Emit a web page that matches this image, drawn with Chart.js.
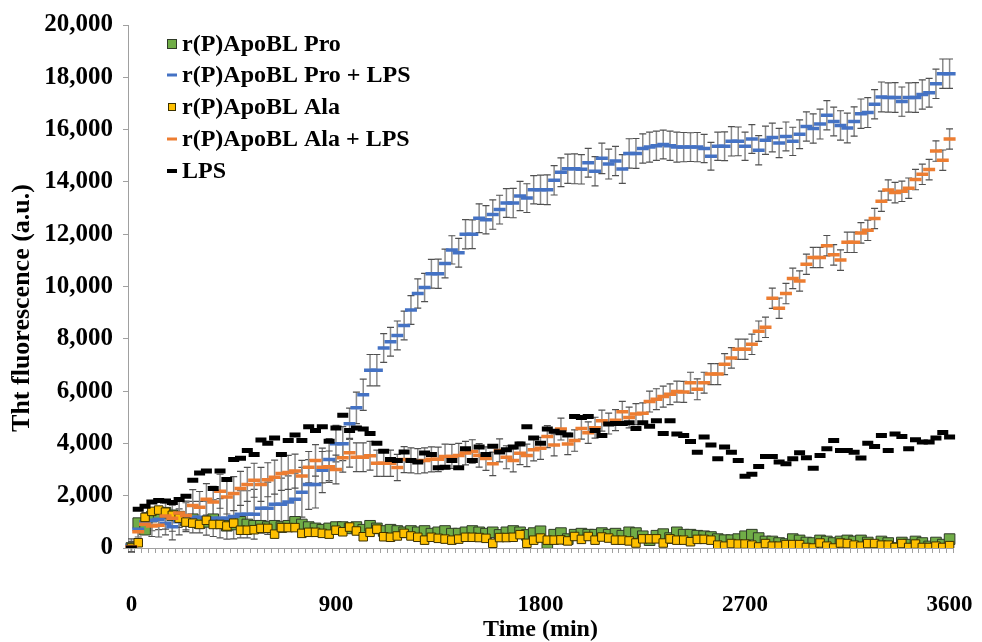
<!DOCTYPE html>
<html><head><meta charset="utf-8">
<script src="https://cdn.jsdelivr.net/npm/chart.js@4.4.1/dist/chart.umd.min.js"></script>
<style>html,body{margin:0;padding:0;background:#fff;}canvas{display:block;}</style>
</head><body>
<canvas id="c" width="982" height="642"></canvas>
<script>
const times = [0,30,60,90,120,150,180,210,240,270,300,330,360,390,420,450,480,510,540,570,600,630,660,690,720,750,780,810,840,870,900,930,960,990,1020,1050,1080,1110,1140,1170,1200,1230,1260,1290,1320,1350,1380,1410,1440,1470,1500,1530,1560,1590,1620,1650,1680,1710,1740,1770,1800,1830,1860,1890,1920,1950,1980,2010,2040,2070,2100,2130,2160,2190,2220,2250,2280,2310,2340,2370,2400,2430,2460,2490,2520,2550,2580,2610,2640,2670,2700,2730,2760,2790,2820,2850,2880,2910,2940,2970,3000,3030,3060,3090,3120,3150,3180,3210,3240,3270,3300,3330,3360,3390,3420,3450,3480,3510,3540,3570,3600];
const xTickLabels = [0, 900, 1800, 2700, 3600];
const seriesNames = ['r(P)ApoBL Pro', 'r(P)ApoBL Pro + LPS', 'r(P)ApoBL Ala', 'r(P)ApoBL Ala + LPS', 'LPS'];

const proValues = [0,950,700,1200,1300,1350,1250,1200,1050,1100,950,1000,1100,950,850,900,1000,900,850,850,800,850,800,850,1000,900,800,750,700,750,800,800,750,800,700,850,750,650,700,650,600,650,600,650,550,600,650,550,550,600,650,600,550,600,500,600,650,600,500,570,640,190,510,570,340,510,550,510,510,570,510,550,470,600,570,450,300,470,530,380,600,510,510,470,450,420,340,300,300,340,450,510,380,250,250,190,150,340,290,210,190,290,250,190,250,290,250,290,210,-50,250,190,0,210,130,250,190,60,210,130,340];

const proLpsValues = [100,720,1000,1060,1100,950,810,1000,1180,1180,1180,1140,1140,1140,1140,1200,1290,1290,1290,1520,1520,1670,1670,1760,1860,2130,2430,2430,2970,3380,3990,3990,4750,5360,5860,6800,6800,7650,7890,8130,8510,9100,9730,9960,10490,10490,10880,11400,11290,12000,12000,12610,12550,12750,12940,13190,13190,13460,13380,13700,13700,13700,14060,14370,14500,14500,14480,14730,14410,14900,14680,14800,14490,15090,15090,15280,15330,15380,15430,15380,15330,15330,15330,15330,15280,14980,15360,15360,15550,15550,15360,15640,15210,15590,15700,15490,15740,15550,15820,16120,16040,16210,16550,16310,16160,16060,16310,16610,16650,16970,17250,17230,17230,17070,17230,17230,17340,17410,17750,18140,18140];
const proLpsErrors = [250,300,350,400,400,450,500,500,550,600,600,650,700,750,800,850,900,900,950,950,1000,1000,1000,1000,1000,950,950,900,850,800,700,650,600,600,600,600,600,550,550,550,550,550,560,540,550,560,550,540,550,560,550,550,540,560,550,550,560,560,550,540,560,570,560,550,560,570,560,550,560,580,570,560,550,560,570,560,570,560,550,560,570,560,550,560,540,530,540,550,560,550,540,550,560,540,550,560,550,540,550,560,560,570,560,550,560,570,560,560,570,560,570,560,570,560,560,570,560,550,560,560,560];

const alaValues = [0,200,1170,1400,1450,1370,1250,1140,990,950,900,1060,900,900,840,950,680,680,700,750,750,530,780,780,780,560,600,600,560,530,680,620,800,650,430,600,720,430,410,460,560,460,410,300,410,370,340,300,340,410,410,400,370,180,400,400,410,510,180,300,380,300,300,310,270,440,330,440,300,420,380,300,300,270,190,350,350,350,190,350,300,300,240,330,330,300,110,70,170,150,150,110,40,170,70,70,130,130,130,20,0,190,70,0,190,170,110,70,170,170,110,110,20,170,20,150,20,20,70,20,90];

const alaLpsValues = [50,620,910,840,870,1220,1140,1340,1240,1630,1560,1860,1760,2170,1950,2080,2280,2430,2590,2430,2610,2710,2850,2890,2940,2750,3090,3350,3090,3110,3000,3450,3640,3470,3470,3530,3240,3240,3240,3080,3380,3350,3320,3350,3390,3390,3500,3500,3540,3630,3690,3540,3420,3220,3730,3470,3350,3620,3540,3760,3810,4260,3940,4550,3980,4110,4570,4410,4600,4870,4760,4890,5210,4990,5120,5150,5600,5690,5790,5880,5980,5970,6320,6070,6320,6650,6650,7030,7270,7600,7600,7790,8290,8440,9550,9170,9730,10310,10210,10850,11110,11110,11560,11210,11010,11690,11690,12050,12150,12600,13260,13690,13590,13640,13760,14090,14290,14470,15180,14830,15640];
const alaLpsErrors = [200,300,350,400,450,500,500,550,550,600,600,600,600,650,650,650,650,650,650,650,650,650,650,650,650,600,600,600,600,600,550,550,550,550,550,550,500,500,500,500,500,480,480,480,480,470,470,460,460,450,450,450,450,450,440,440,440,430,430,430,420,420,420,420,410,410,410,410,400,400,400,400,400,400,400,400,400,400,400,400,400,400,400,400,400,400,400,400,390,390,390,390,390,390,390,390,390,390,390,390,390,390,390,390,390,390,390,390,390,390,390,390,390,390,390,390,390,390,390,390,390];

const lpsValues = [0,1480,1600,1760,1820,1800,1740,1850,1980,2590,2870,2940,2280,2940,2620,3380,3430,3730,3580,4130,4010,4210,3580,4110,4320,4110,4640,4490,4640,4080,4590,5080,4490,4590,4550,4380,4010,3700,3380,3350,3670,3350,3290,3630,3580,3070,3090,3350,3070,3800,3350,3860,3580,3890,3670,3760,3860,3980,4640,4210,4010,4550,4460,4410,4320,5030,4990,5030,4490,4300,4740,4760,4760,4790,4570,4790,4660,4870,4380,4870,4360,4300,4070,3660,4240,3940,3410,3860,3660,3350,2740,2820,3120,3500,3500,3290,3220,3410,3640,3450,3050,3540,3800,4110,3730,3730,3660,3440,4010,3880,4300,3730,4360,4260,3800,4140,4050,4050,4210,4420,4240];

const yTickStep = 2000;
const FONT = '"Liberation Serif", "Times New Roman", serif';
const yTitle = 'Tht fluorescence (a.u.)';

const errorBarPlugin = {
  id: 'errorBars',
  beforeDatasetsDraw(chart) {
    const ctx = chart.ctx, ys = chart.scales.y, area = chart.chartArea;
    ctx.save();
    ctx.beginPath();
    ctx.rect(area.left, area.top - 5, area.right - area.left, area.bottom - area.top + 10);
    ctx.clip();
    chart.data.datasets.forEach((ds, di) => {
      if (!ds.errors) return;
      const meta = chart.getDatasetMeta(di);
      meta.data.forEach((pt, i) => {
        const v = ds.data[i], e = ds.errors[i];
        const x = pt.x;
        const yT = ys.getPixelForValue(v + e);
        const yB = ys.getPixelForValue(v - e);
        ctx.strokeStyle = '#8a8a8a';
        ctx.lineWidth = 1.5;
        ctx.beginPath(); ctx.moveTo(x, yT); ctx.lineTo(x, yB); ctx.stroke();
        ctx.strokeStyle = '#505050';
        ctx.lineWidth = 1.2;
        ctx.beginPath();
        ctx.moveTo(x - 3.5, yT); ctx.lineTo(x + 3.5, yT);
        ctx.moveTo(x - 3.5, yB); ctx.lineTo(x + 3.5, yB);
        ctx.stroke();
      });
    });
    ctx.restore();
  }
};

const legendPlugin = {
  id: 'innerLegend',
  afterDraw(chart) {
    const ctx = chart.ctx;
    const rows = [44, 75, 107, 139, 171];
    const mx = 172, tx = 182;
    ctx.save();
    ctx.font = 'bold 24px ' + FONT;
    ctx.textBaseline = 'middle';
    ctx.textAlign = 'left';
    chart.data.datasets.forEach((ds, i) => {
      const y = rows[i];
      if (ds.pointStyle === 'rect') {
        const s = ds.legendSize;
        ctx.fillStyle = ds.pointBackgroundColor;
        ctx.fillRect(mx - s / 2, y - s / 2, s, s);
        ctx.strokeStyle = ds.pointBorderColor;
        ctx.lineWidth = 1;
        ctx.strokeRect(mx - s / 2, y - s / 2, s, s);
      } else {
        ctx.strokeStyle = ds.pointBorderColor;
        ctx.lineWidth = ds.legendThick;
        ctx.beginPath(); ctx.moveTo(mx - 5, y); ctx.lineTo(mx + 5, y); ctx.stroke();
      }
      ctx.fillStyle = '#000';
      ctx.fillText(ds.label, tx, y + 1);
    });
    ctx.save();
    ctx.translate(22, 308);
    ctx.rotate(-Math.PI / 2);
    ctx.font = 'bold 26px ' + FONT;
    ctx.textAlign = 'center';
    ctx.textBaseline = 'middle';
    ctx.fillText(yTitle, 0, 0);
    ctx.restore();
    ctx.restore();
  }
};

new Chart(document.getElementById('c'), {
  type: 'line',
  data: {
    labels: times,
    datasets: [
      { label: seriesNames[0], data: proValues, showLine: false, pointStyle: 'rect', pointRadius: 7.5, pointHoverRadius: 7.5,
        pointBackgroundColor: '#70AD47', pointBorderColor: '#2f3a28', pointBorderWidth: 1, order: 5, legendSize: 9 },
      { label: seriesNames[1], data: proLpsValues, errors: proLpsErrors, showLine: false, pointStyle: 'line', pointRadius: 6, pointHoverRadius: 6,
        pointBorderColor: '#4472C4', pointBackgroundColor: '#4472C4', pointBorderWidth: 3.5, order: 4, legendThick: 3 },
      { label: seriesNames[2], data: alaValues, showLine: false, pointStyle: 'rect', pointRadius: 6, pointHoverRadius: 6,
        pointBackgroundColor: '#FFC000', pointBorderColor: '#3a3000', pointBorderWidth: 1, order: 3, legendSize: 7 },
      { label: seriesNames[3], data: alaLpsValues, errors: alaLpsErrors, showLine: false, pointStyle: 'line', pointRadius: 6, pointHoverRadius: 6,
        pointBorderColor: '#ED7D31', pointBackgroundColor: '#ED7D31', pointBorderWidth: 3.5, order: 2, legendThick: 3 },
      { label: seriesNames[4], data: lpsValues, showLine: false, pointStyle: 'line', pointRadius: 5.5, pointHoverRadius: 5.5,
        pointBorderColor: '#000000', pointBackgroundColor: '#000000', pointBorderWidth: 5, order: 1, legendThick: 4 }
    ]
  },
  options: {
    responsive: false,
    animation: false,
    events: [],
    layout: { padding: { top: 22, right: 29, left: 0, bottom: 0 } },
    plugins: { legend: { display: false }, tooltip: { enabled: false } },
    scales: {
      x: {
        type: 'category',
        offset: true,
        grid: { offset: true, drawOnChartArea: false, drawTicks: true, tickLength: 5, tickColor: '#a0a0a0', tickWidth: 1 },
        border: { display: true, color: '#a0a0a0', width: 1 },
        ticks: {
          autoSkip: false, maxRotation: 0, minRotation: 0, padding: 38, color: '#000',
          font: { family: FONT, size: 23, weight: 'bold' },
          callback: (v, i) => (xTickLabels.includes(times[i]) ? String(times[i]) : '')
        },
        title: { display: true, text: 'Time (min)', color: '#000', padding: 0,
          font: { family: FONT, size: 24, weight: 'bold', lineHeight: 1.0 } },
        afterFit(s) { s.height = 94; s.paddingLeft = 0; s.paddingRight = 0; }
      },
      y: {
        min: 0, max: 20000,
        grid: { drawOnChartArea: false, drawTicks: true, tickLength: 5, tickColor: '#a0a0a0', tickWidth: 1 },
        border: { display: true, color: '#a0a0a0', width: 1 },
        ticks: {
          stepSize: yTickStep, padding: 10, color: '#000',
          font: { family: FONT, size: 25, weight: 'bold' },
          callback: v => Number(v).toLocaleString('en-US')
        },
        title: { display: false },
        afterFit(s) { s.width = 128; }
      }
    }
  },
  plugins: [errorBarPlugin, legendPlugin]
});
</script>
</body></html>
